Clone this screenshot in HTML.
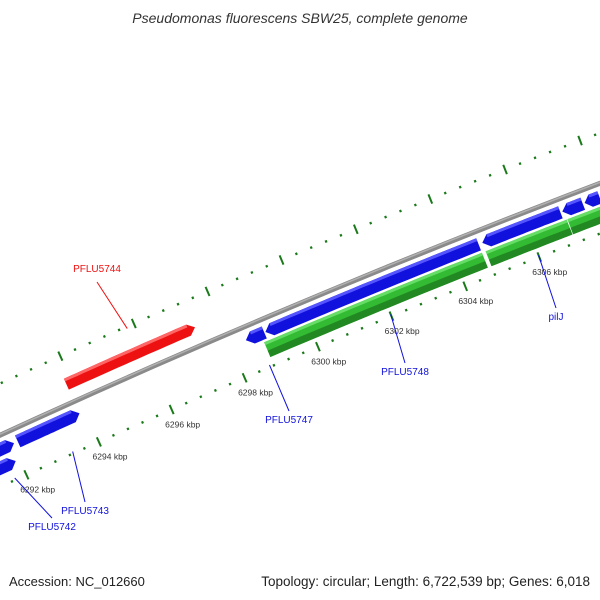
<!DOCTYPE html>
<html><head><meta charset="utf-8"><style>
html,body{margin:0;background:#fff;overflow:hidden;width:600px;height:600px;}
svg{display:block;font-family:"Liberation Sans",sans-serif;}
</style></head><body>
<svg id="map" width="600" height="600" viewBox="0 0 600 600">
<text x="300" y="23" text-anchor="middle" font-size="14" font-style="italic" fill="#333">Pseudomonas fluorescens SBW25, complete genome</text>
<text x="9" y="586" font-size="13" fill="#222">Accession: NC_012660</text>
<text x="590" y="586" text-anchor="end" font-size="13.5" fill="#222">Topology: circular; Length: 6,722,539 bp; Genes: 6,018</text>
<g id="layer"></g>
</svg>
<script>
// gene data (bp)
const geneStarts = [6288000, 6292150, 6293850, 6298400, 6298930, 6304800, 6306950, 6307550, 6307980, 6286000, 6298800, 6304800, 6307000];
const geneEnds   = [6292050, 6293850, 6297360, 6298900, 6304700, 6306900, 6307500, 6307950, 6309000, 6291900, 6304700, 6306980, 6310000];
const geneStrand = [1, 1, 1, -1, -1, -1, -1, -1, -1, 1, 0, 0, 0];
const geneTrack  = ["blue", "blue", "red", "blue", "blue", "blue", "blue", "blue", "blue", "blue2", "green", "green", "green"];
const tickLabels = ["6292 kbp","6294 kbp","6296 kbp","6298 kbp","6300 kbp","6302 kbp","6304 kbp","6306 kbp"];
const tickValues = [6292000,6294000,6296000,6298000,6300000,6302000,6304000,6306000];
const geneLabels = ["PFLU5744","PFLU5747","PFLU5748","pilJ","PFLU5743","PFLU5742"];
const geneLabelBp = [6295800, 6298700, 6302000, 6306000, 6293300, 6291700];

const NS="http://www.w3.org/2000/svg";
const layer=document.getElementById('layer');
const R=9570, P0=[300,304], nrm=[0.387,0.922];
const C=[P0[0]+R*nrm[0], P0[1]+R*nrm[1]];
const phi0=Math.atan2(-nrm[1],-nrm[0]);
const PXPERBP=0.04, BP0=6300000;
function pos(bp,off){const phi=phi0+(bp-BP0)*PXPERBP/R;const r=R-off;return [C[0]+r*Math.cos(phi),C[1]+r*Math.sin(phi)];}
function mk(tag,attrs){const e=document.createElementNS(NS,tag);for(const k in attrs)e.setAttribute(k,attrs[k]);layer.appendChild(e);return e;}
function arcPts(b1,b2,off){const pts=[];const n=20;for(let i=0;i<=n;i++){pts.push(pos(b1+(b2-b1)*i/n,off));}return pts;}
function ptsStr(p){return p.map(q=>q[0].toFixed(1)+","+q[1].toFixed(1)).join(" ");}

// backbone
let bb=mk('polyline',{points:ptsStr(arcPts(6280000,6312000,0)),fill:'none',stroke:'#8a8a8a','stroke-width':5});


let bb2=mk('polyline',{points:ptsStr(arcPts(6280000,6312000,-1)),fill:'none',stroke:'#b0b0b0','stroke-width':1.5});



// ticks
for(let bp=6280000;bp<=6312000;bp+=400){
  const major=(bp%2000===0);
  [-47,47].forEach(off=>{
    const h=major?5:1.2;
    const a=pos(bp,off-h),b=pos(bp,off+h);
    const t=mk('line',{x1:a[0],y1:a[1],x2:b[0],y2:b[1],stroke:'#1a7a1a','stroke-width':major?2:2.2});
    
    
  });
}
tickValues.forEach((v,i)=>{
  const p=pos(v,62);
  const t=mk('text',{x:p[0]+5,y:p[1]+4,'font-size':8.5,'text-anchor':'middle',fill:'#333'});
  t.textContent=tickLabels[i];
  
  
});

// genes
const trackCfg={red:{off:-19,h:12,c:'#ee1111',l:'#ff6666'},blue:{off:13,h:13,c:'#1111dd',l:'#5555ff'},blue2:{off:30,h:13,c:'#1111dd',l:'#5555ff'},green:{off:30,h:16,c:'#33bb33',l:'#66dd66',d:'#228822'}};
geneStarts.forEach((s,i)=>{
  const e=geneEnds[i],cfg=trackCfg[geneTrack[i]],st=geneStrand[i];
  const ah=Math.min(7/PXPERBP,(e-s)*0.4);
  let s2=s,e2=e;
  if(st===1)e2=e-ah; if(st===-1)s2=s+ah;
  const outer=arcPts(s2,e2,cfg.off-cfg.h/2),inner=arcPts(s2,e2,cfg.off+cfg.h/2).reverse();
  let pts=outer.slice();
  if(st===1)pts.push(pos(e,cfg.off));
  pts=pts.concat(inner);
  if(st===-1)pts.push(pos(s,cfg.off));
  const g=mk('polygon',{points:ptsStr(pts),fill:cfg.c});
  
  
  const hl=arcPts(s2,e2,cfg.off-cfg.h/2+1.5);
  const h=mk('polyline',{points:ptsStr(hl),fill:'none',stroke:cfg.l,'stroke-width':3});
  
  
  if(cfg.d){
    const dk=mk('polygon',{points:ptsStr(arcPts(s2,e2,cfg.off+1).concat(inner)),fill:cfg.d});
    
    
  }
});

// gene labels
const labelPos=[[97,272,'#ee1111',-50],[289,423,'#1111dd',60],[405,375,'#1111dd',60],[556,320,'#1111dd',60],[85,514,'#1111dd',60],[52,530,'#1111dd',60]];
geneLabels.forEach((txt,i)=>{
  const lp=labelPos[i];
  const a=pos(geneLabelBp[i],lp[3]<0?-45:45);
  const ty=lp[3]<0?lp[1]+10:lp[1]-12;
  const ln=mk('line',{x1:a[0],y1:a[1],x2:lp[0],y2:ty,stroke:lp[2],'stroke-width':1});
  
  
  const t=mk('text',{x:lp[0],y:lp[1],'font-size':10,'text-anchor':'middle',fill:lp[2]});
  t.textContent=txt;
  
  
});
</script>
</body></html>
